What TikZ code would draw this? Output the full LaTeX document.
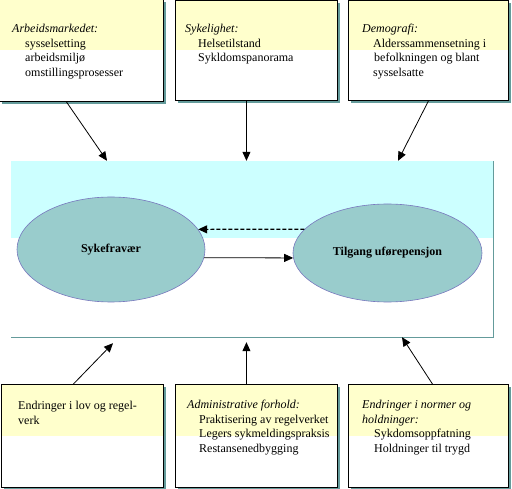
\documentclass[tikz,border=0pt]{standalone}
\usepackage{fontspec}
\setmainfont{Liberation Serif}
\usetikzlibrary{arrows.meta,positioning,shadows,shapes.geometric}

\definecolor{gul}{RGB}{255,255,204}
\definecolor{lysbla}{RGB}{204,255,255}
\definecolor{ovalfarge}{RGB}{153,204,204}
\definecolor{ovalkant}{RGB}{120,120,190}
\definecolor{skygge}{RGB}{100,155,155}

\begin{document}
\begin{tikzpicture}[
    x=1pt, y=-1pt,
    boks/.style={draw, line width=0.9pt, fill=white, anchor=north west, inner sep=0pt,
        path picture={\fill[gul] (path picture bounding box.north west)
            rectangle (path picture bounding box.east);},
        drop shadow={shadow xshift=2.5pt, shadow yshift=-2.5pt, fill=skygge, opacity=1}},
    tekst/.style={anchor=north west, inner sep=0pt, align=left,
        font=\fontsize{12}{14.6}\selectfont},
    oval/.style={ellipse, draw=ovalkant, line width=0.6pt, fill=ovalfarge, inner sep=0pt,
        font=\fontsize{12}{14}\selectfont\bfseries},
    pil/.style={-{Triangle[length=9pt, width=8pt]}, line width=0.8pt}
]
\useasboundingbox (0,0) rectangle (512,489);

% midtfeltet
\node[minimum width=482pt, minimum height=176pt, inner sep=0pt, fill=white,
    path picture={\fill[lysbla] (path picture bounding box.north west)
        rectangle ([yshift=-77pt]path picture bounding box.north east);}]
    (ramme) at (252,249) {};
\draw[skygge, line width=0.8pt] (ramme.north east) -- (ramme.south east) -- (ramme.south west);

\node[oval, minimum width=188pt, minimum height=105pt] (fravaer) at (111,249.5) {Sykefravær};
\node[oval, minimum width=189pt, minimum height=98pt]  (tilgang) at (387.5,253) {Tilgang uførepensjon};
\draw[pil, line width=1.2pt, dash pattern=on 4pt off 2pt] (tilgang.164) -- (fravaer.13);
\draw[pil] (fravaer.-5) -- (tilgang.-177);

% faktorene over
\node[boks, minimum width=164pt, minimum height=102pt] (arbeid) at (-1,-1) {};
\node[tekst, below right=25pt and 13pt of arbeid.north west] (arbeidtxt)
    {\textit{Arbeidsmarkedet:}\\ \hspace*{13pt}sysselsetting\\ \hspace*{13pt}arbeidsmiljø\\
     \hspace*{13pt}omstillingsprosesser};
\node[boks, minimum width=162pt, minimum height=100pt] (sykelighet) at (175,0) {};
\node[tekst, below right=24pt and 10pt of sykelighet.north west] (sykelighettxt)
    {\textit{Sykelighet:}\\ \hspace*{13pt}Helsetilstand\\ \hspace*{13pt}Sykldomspanorama};
\node[boks, minimum width=160pt, minimum height=100pt] (demografi) at (348,0) {};
\node[tekst, below right=24pt and 14pt of demografi.north west] (demografitxt)
    {\textit{Demografi:}\\ \hspace*{11pt}Alderssammensetning i\\ \hspace*{12pt}befolkningen og blant\\
     \hspace*{11pt}sysselsatte};

% faktorene under
\node[boks, minimum width=162pt, minimum height=103pt] (lov) at (1,384) {};
\node[tekst, below right=17pt and 17pt of lov.north west] (lovtxt)
    {Endringer i lov og regel-\\verk};
\node[boks, minimum width=162pt, minimum height=103pt] (admin) at (175,384) {};
\node[tekst, below right=16pt and 12pt of admin.north west] (admintxt)
    {\textit{Administrative forhold:}\\ \hspace*{12pt}Praktisering av regelverket\\
     \hspace*{12pt}Legers sykmeldingspraksis\\ \hspace*{12pt}Restansenedbygging};
\node[boks, minimum width=160pt, minimum height=103pt] (normer) at (348,384) {};
\node[tekst, below right=16pt and 14pt of normer.north west] (normertxt)
    {\textit{Endringer i normer og}\\ \textit{holdninger:}\\ \hspace*{12pt}Sykdomsoppfatning\\
     \hspace*{12pt}Holdninger til trygd};

% piler inn mot midtfeltet
\draw[pil] ([xshift=-15pt]arbeid.south) -- ([xshift=-145pt]ramme.north);
\draw[pil] ([xshift=-10pt]sykelighet.south) -- ([xshift=-10pt]sykelighet.south |- ramme.north);
\draw[pil] (demografi.south) -- ([xshift=146pt]ramme.north);
\draw[pil] ([xshift=-9pt]lov.north) -- ([xshift=-139pt, yshift=-6pt]ramme.south);
\draw[pil] ([xshift=-10pt]admin.north) -- ([xshift=-10pt, yshift=-5pt]admin.north |- ramme.south);
\draw[pil] ([xshift=4pt]normer.north) -- ([xshift=150pt]ramme.south);
\end{tikzpicture}
\end{document}
